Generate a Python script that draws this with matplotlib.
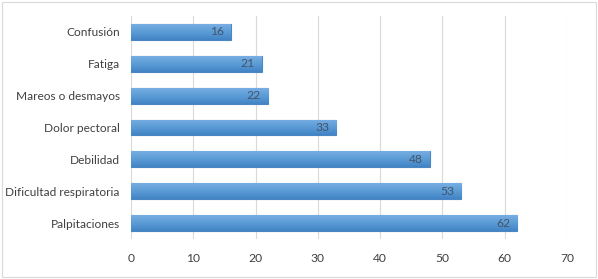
import numpy as np
import matplotlib
matplotlib.use("Agg")
import matplotlib.pyplot as plt
from matplotlib.patches import Rectangle

categories = ["Palpitaciones", "Dificultad respiratoria", "Debilidad", "Dolor pectoral",
              "Mareos o desmayos", "Fatiga", "Confusión"]
values = [62, 53, 48, 33, 22, 21, 16]
xticks = [0, 10, 20, 30, 40, 50, 60, 70]

plt.rcParams['font.family'] = ['Lato', 'DejaVu Sans']

fig = plt.figure(figsize=(5.98, 2.79), dpi=100)
ax = fig.add_axes([0.219, 0.143, 0.729, 0.8])

ypos = np.arange(len(categories))
bars = ax.barh(ypos, values, height=0.5, color="#5B9BD5", edgecolor="#4A86C2", linewidth=0.8, zorder=2)

# vertical gradient inside each bar (lighter top, darker bottom)
grad = np.linspace(0, 1, 64).reshape(-1, 1)
cmap = matplotlib.colors.LinearSegmentedColormap.from_list("g", ["#4283C6", "#5B9BD5", "#78AEE3"])
for b in bars:
    x0, y0 = b.get_x(), b.get_y()
    w, h = b.get_width(), b.get_height()
    im = ax.imshow(grad, cmap=cmap, aspect="auto", extent=[x0, x0 + w, y0, y0 + h],
                   origin="lower", zorder=2.5)
    im.set_clip_path(b)

for y, v in zip(ypos, values):
    ax.annotate(str(v), (v, y), xytext=(-5, 0), textcoords="offset points",
                ha="right", va="center", fontsize=8.7, color="#44546A", zorder=3)

ax.set_xlim(0, 70)
ax.set_ylim(-0.5, len(categories) - 0.5)
ax.set_xticks(xticks)
ax.set_yticks(ypos)
ax.set_yticklabels(categories, fontsize=8.6)
ax.tick_params(axis="x", length=0, labelsize=8.7, colors="#404040", pad=10)
ax.tick_params(axis="y", length=0, colors="#404040", pad=8)
ax.grid(axis="x", color="#D9D9D9", linewidth=0.8, zorder=0)
ax.set_axisbelow(True)
for s in ax.spines.values():
    s.set_visible(False)

fig.patches.append(Rectangle((0.004, 0.008), 0.992, 0.985, transform=fig.transFigure,
                             fill=False, edgecolor="#D9D9D9", linewidth=0.8))

fig.savefig("out.png", dpi=100)
